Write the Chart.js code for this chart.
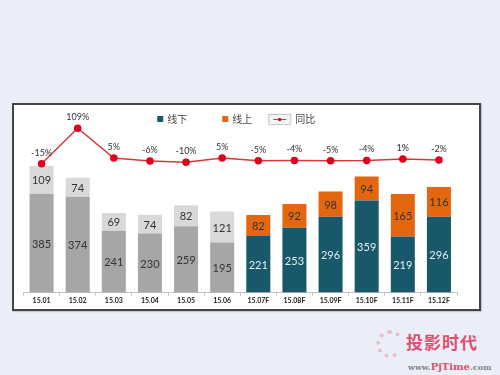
<!DOCTYPE html>
<html>
<head>
<meta charset="utf-8">
<script src="https://cdn.jsdelivr.net/npm/chart.js@4/dist/chart.umd.min.js"></script>
<style>
  html, body { margin: 0; padding: 0; }
  body {
    width: 500px; height: 375px; overflow: hidden; position: relative;
    background: #eaeef8;
    font-family: Lato, "Noto Sans CJK SC", sans-serif;
  }
  #frame {
    position: absolute; left: 12px; top: 103px;
    width: 465px; height: 204px;
    border: 2px solid #444; background: #fff;
    box-shadow: 1px 1px 1px rgba(0,0,0,0.15);
  }
  #chart3 { display: block; }
  #logo {
    position: absolute; left: 376px; top: 330px; width: 28px; height: 28px;
    border-radius: 50%; border: 4px dotted #f2b8c4; border-right-color: transparent;
    box-sizing: border-box;
  }
  #wm1 {
    position: absolute; left: 406px; top: 329px;
    font: bold 17px "Noto Sans CJK SC", sans-serif; letter-spacing: 1px; color: #e0506e;
  }
  #wm2 {
    position: absolute; left: 408px; top: 361px;
    font: bold 8px "DejaVu Serif", serif; color: #888;
  }
  #wm2 span { color: #e0506e; font-size: 10px; }
</style>
</head>
<body>
<div id="frame"><canvas id="chart3" width="465" height="204"></canvas></div>
<div id="logo"></div>
<div id="wm1">投影时代</div>
<div id="wm2">www.<span>PjTime</span>.com</div>
<script>
// months (F = forecast)
const months = ['15.01', '15.02', '15.03', '15.04', '15.05', '15.06',
  '15.07F', '15.08F', '15.09F', '15.10F', '15.11F', '15.12F'];
// 线下 (offline) volume
const offline = [385, 374, 241, 230, 259, 195, 221, 253, 296, 359, 219, 296];
// 线上 (online) volume
const online = [109, 74, 69, 74, 82, 121, 82, 92, 98, 94, 165, 116];
// 同比 (year over year, %)
const yoy = [-15, 109, 5, -6, -10, 5, -5, -4, -5, -4, 1, -2];
// how many months are actuals (drawn in gray)
const actualCount = 6;

const TEAL = '#17596a';
const ORANGE = '#e4670f';
const DARK_GRAY = '#a6a6a6';
const LIGHT_GRAY = '#d9d9d9';
const RED = '#d8373c';

const offlineColors = months.map((m, i) => i < actualCount ? DARK_GRAY : TEAL);
const onlineColors = months.map((m, i) => i < actualCount ? LIGHT_GRAY : ORANGE);

// values written in the middle of each bar segment
const barLabels = {
  id: 'barLabels',
  afterDatasetsDraw(chart) {
    const ctx = chart.ctx;
    ctx.save();
    ctx.font = '11px Lato, sans-serif';
    ctx.textAlign = 'center';
    ctx.textBaseline = 'middle';
    [0, 1].forEach(dsIndex => {
      const meta = chart.getDatasetMeta(dsIndex);
      const values = chart.data.datasets[dsIndex].data;
      meta.data.forEach((bar, i) => {
        const { x, y, base } = bar.getProps(['x', 'y', 'base'], true);
        if (dsIndex === 0 && i >= actualCount) ctx.fillStyle = '#e6eef0';
        else ctx.fillStyle = '#333';
        ctx.fillText(values[i], x, (y + base) / 2 + 1);
      });
    });
    // percentage labels above the line points
    const lineMeta = chart.getDatasetMeta(2);
    ctx.font = '9px Lato, sans-serif';
    ctx.fillStyle = '#333';
    lineMeta.data.forEach((pt, i) => {
      ctx.fillText(yoy[i] + '%', pt.x, pt.y - 11);
    });
    ctx.restore();
  }
};

// legend drawn on the canvas (line item has a little framed sample)
const customLegend = {
  id: 'customLegend',
  afterDraw(chart) {
    const ctx = chart.ctx;
    const area = chart.chartArea;
    ctx.save();
    ctx.font = '10px "Noto Sans CJK SC", sans-serif';
    ctx.textBaseline = 'middle';
    const cy = 14;
    const names = chart.data.datasets.map(d => d.label);
    const w = names.map(n => ctx.measureText(n).width);
    const total = 6 + 4 + w[0] + 35 + 6 + 4 + w[1] + 16 + 22 + 5 + w[2];
    let x = (area.left + area.right) / 2 - total / 2 - 4;

    ctx.fillStyle = TEAL;
    ctx.fillRect(x, cy - 3, 6, 6);
    ctx.fillStyle = '#444';
    ctx.fillText(names[0], x + 10, cy);
    x += 10 + w[0] + 35;

    ctx.fillStyle = ORANGE;
    ctx.fillRect(x, cy - 3, 6, 6);
    ctx.fillStyle = '#444';
    ctx.fillText(names[1], x + 10, cy);
    x += 10 + w[1] + 16;

    ctx.fillStyle = '#f4f4f4';
    ctx.fillRect(x, cy - 5, 22, 10);
    ctx.strokeStyle = '#c8c8c8';
    ctx.lineWidth = 1;
    ctx.strokeRect(x + 0.5, cy - 4.5, 22, 10);
    ctx.strokeStyle = RED;
    ctx.beginPath();
    ctx.moveTo(x + 5, cy + 0.5);
    ctx.lineTo(x + 18, cy + 0.5);
    ctx.stroke();
    ctx.fillStyle = '#e3001b';
    ctx.beginPath();
    ctx.arc(x + 11.5, cy + 0.5, 1.8, 0, Math.PI * 2);
    ctx.fill();
    ctx.fillStyle = '#444';
    ctx.fillText(names[2], x + 27, cy);
    ctx.restore();
  }
};

const ctx = document.getElementById('chart3').getContext('2d');
new Chart(ctx, {
  type: 'bar',
  data: {
    labels: months,
    datasets: [
      {
        label: '线下',
        data: offline,
        backgroundColor: offlineColors,
        stack: 'total',
        yAxisID: 'y',
        order: 2
      },
      {
        label: '线上',
        data: online,
        backgroundColor: onlineColors,
        stack: 'total',
        yAxisID: 'y',
        order: 2
      },
      {
        type: 'line',
        label: '同比',
        data: yoy,
        borderColor: RED,
        borderWidth: 1.5,
        pointBackgroundColor: '#e3001b',
        pointBorderColor: '#e3001b',
        pointRadius: 3,
        tension: 0,
        clip: false,
        yAxisID: 'y1',
        order: 1
      }
    ]
  },
  options: {
    responsive: false,
    animation: false,
    devicePixelRatio: 1,
    layout: { padding: { left: 9.5, right: 22, top: 5, bottom: 3 } },
    datasets: {
      bar: { categoryPercentage: 1, barPercentage: 0.665 }
    },
    plugins: {
      legend: { display: false },
      tooltip: { enabled: false }
    },
    scales: {
      x: {
        stacked: true,
        offset: true,
        border: { color: '#c4c4c4' },
        grid: {
          offset: true,
          drawOnChartArea: false,
          drawTicks: true,
          tickLength: 3,
          color: '#c4c4c4'
        },
        ticks: {
          padding: 1,
          color: '#222',
          font: { family: 'Lato, sans-serif', size: 7, weight: 'bold' }
        }
      },
      y: {
        stacked: true,
        display: false,
        min: 0,
        max: 710
      },
      y1: {
        display: false,
        min: -466,
        max: 171
      }
    }
  },
  plugins: [barLabels, customLegend]
});
</script>
</body>
</html>
